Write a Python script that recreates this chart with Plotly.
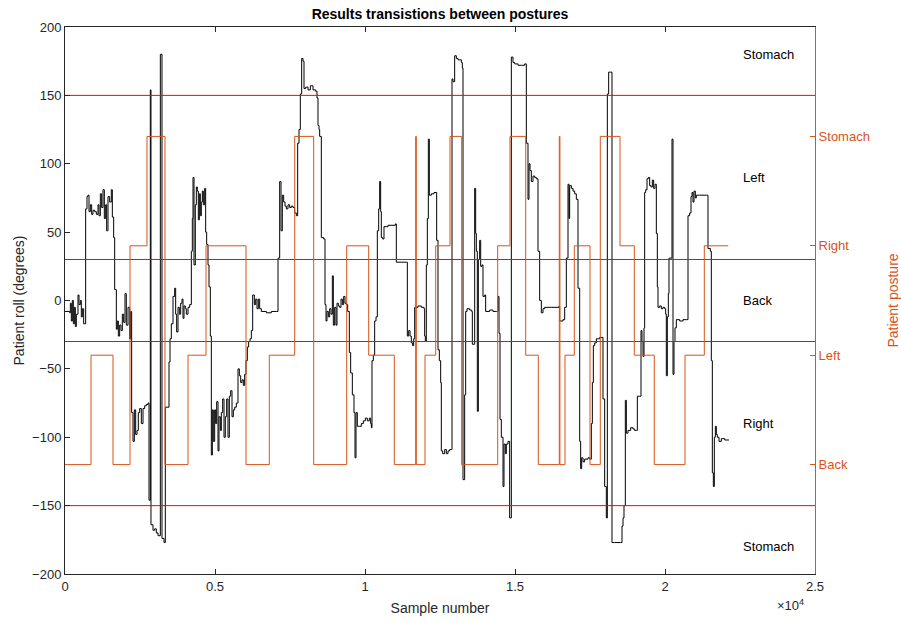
import plotly.graph_objects as go

# ---------------- data ----------------
# Black trace: patient roll (degrees) vs sample number
roll_samples = [0, 156, 178, 211, 244, 278, 311, 344, 378, 433, 467, 511, 544, 578, 622,
    689, 733, 767, 800, 844, 889, 933, 989, 1044, 1100, 1133, 1178, 1222, 1267, 1311, 1356,
    1389, 1433, 1489, 1544, 1578, 1622, 1656, 1711, 1744, 1778, 1822, 1867, 1911, 1956, 2000,
    2044, 2100, 2156, 2189, 2222, 2267, 2311, 2356, 2400, 2444, 2489, 2544, 2600, 2656, 2711,
    2767, 2800, 2844, 2866, 2933, 2989, 3044, 3100, 3178, 3233, 3300, 3344, 3433, 3467, 3500,
    3544, 3600, 3656, 3689, 3722, 3767, 3811, 3856, 3900, 3933, 3967, 4011, 4044, 4100, 4156,
    4211, 4244, 4267, 4300, 4344, 4378, 4411, 4444, 4478, 4511, 4544, 4578, 4611, 4656, 4689,
    4722, 4767, 4800, 4844, 4878, 4911, 4944, 4989, 5022, 5056, 5100, 5133, 5178, 5211, 5256,
    5300, 5344, 5389, 5433, 5478, 5522, 5567, 5611, 5656, 5711, 5767, 5811, 5856, 5900, 5944,
    5989, 6033, 6078, 6122, 6167, 6211, 6256, 6311, 6356, 6400, 6444, 6489, 6544, 6711, 6878,
    7044, 7100, 7156, 7200, 7244, 7289, 7333, 7378, 7433, 7489, 7544, 7600, 7656, 7711, 7756,
    7800, 7844, 7889, 7933, 7967, 8022, 8100, 8178, 8267, 8356, 8400, 8433, 8467, 8489, 8544,
    8622, 8667, 8700, 8733, 8778, 8822, 8867, 8911, 8944, 8989, 9033, 9067, 9111, 9156, 9200,
    9244, 9289, 9333, 9378, 9422, 9478, 9522, 9578, 9633, 9667, 9700, 9744, 9811, 9878, 9944,
    10011, 10078, 10144, 10189, 10211, 10233, 10278, 10322, 10367, 10411, 10456, 10489, 10522,
    10544, 10589, 10633, 10767, 10933, 11011, 11044, 11211, 11378, 11411, 11456, 11500, 11544,
    11589, 11622, 11656, 11767, 11878, 11967, 11989, 12011, 12044, 12078, 12111, 12144, 12211,
    12300, 12367, 12389, 12433, 12478, 12522, 12544, 12589, 12656, 12711, 12767, 12822, 12878,
    12900, 12933, 12989, 13044, 13100, 13156, 13211, 13244, 13267, 13300, 13322, 13356, 13400,
    13489, 13556, 13578, 13633, 13656, 13689, 13711, 13744, 13778, 13822, 13856, 13900, 13933,
    13989, 14022, 14156, 14267, 14378, 14433, 14467, 14500, 14544, 14600, 14633, 14678, 14711,
    14767, 14822, 14878, 14933, 14989, 15100, 15211, 15322, 15378, 15433, 15467, 15500, 15544,
    15600, 15656, 15711, 15767, 15822, 15878, 15933, 15989, 16211, 16433, 16467, 16489, 16600,
    16656, 16711, 16767, 16800, 16822, 16878, 16933, 16989, 17044, 17100, 17156, 17189, 17222,
    17267, 17322, 17433, 17489, 17544, 17578, 17611, 17656, 17711, 17822, 17900, 17933, 17989,
    18044, 18078, 18122, 18189, 18233, 18322, 18433, 18522, 18567, 18600, 18633, 18678, 18711,
    18767, 18856, 18933, 18989, 19044, 19078, 19156, 19200, 19233, 19267, 19300, 19322, 19356,
    19400, 19444, 19489, 19533, 19578, 19622, 19667, 19711, 19744, 19767, 19822, 19878, 19933,
    19989, 20022, 20044, 20078, 20111, 20133, 20189, 20233, 20267, 20300, 20333, 20378, 20489,
    20600, 20711, 20767, 20822, 20867, 20900, 20933, 20967, 21011, 21044, 21156, 21267, 21378,
    21433, 21511, 21544, 21578, 21611, 21644, 21678, 21711, 21744, 21800, 21878, 21989, 22133]

roll_degrees = [-8, -9, -2, -15, 0, -17, -5, -19, -10, 4, -3, 0, -12, -6, -17,
    67, 76, 77, 65, 70, 63, 66, 65, 63, 70, 62, 78, 68, 81, 60, 70,
    51, 76, 72, 81, 61, 46, 8, -21, -15, -26, -18, -22, -10, -16, 5,
    -18, -5, -28, -8, -82, -103, -80, -98, -95, -82, -79, -90, -79, -77, -76,
    -75, -146, 154, -164, -168, -167, -170, -172, 180, -174, -177, -78, -78, -45, -28,
    -17, 3, 9, -10, -23, -5, -10, -2, 1, -13, -4, -6, -10, -5, -3,
    36, 60, 90, 26, 70, 83, 80, 59, 78, 62, 72, 80, 70, 82, 50,
    41, 26, 10, -26, -113, -80, -103, -80, -90, -74, -110, -85, -95, -82, -72,
    -100, -85, -72, -100, -70, -66, -85, -80, -78, -75, -50, -55, -60, -58, -62,
    -54, -44, -34, -30, -28, -22, 4, -3, 1, -6, 1, -6, -8, -9, -8,
    -8, 31, 87, 51, 77, 72, 69, 67, 70, 68, 69, 68, 64, 62, 115,
    125, 151, 177, 175, 155, 156, 154, 157, 154, 153, 148, 128, 125, 120, 46,
    45, -3, -15, -8, -12, -6, -10, 18, -18, -5, -18, -2, -4, -5, 1,
    -3, 3, -2, -3, -8, -38, -53, -69, -82, -115, -82, -92, -92, -90, -88,
    -86, -88, -86, -90, -93, -44, -40, -15, -12, 51, 67, 87, 65,
    46, 45, 54, 55, 55, 56, 28, 28, 28, -26, -22, -26, -31,
    -33, -28, -5, -4, -5, -6, -26, -30, 26, 60, 118, 77, 78,
    79, 79, 44, -36, -44, -60, -110, -112, -109, -112, -110, -109, -109,
    162, 160, 179, 177, 176, 176, 174, 170, -131, -131, -69, -8, -6,
    -7, -8, -32, -32, 82, 49, 36, -81, 30, 44, 25, 26, 3,
    4, -8, -7, -8, -8, 3, -24, -87, -100, -136, -105, -112, -105,
    -103, -159, 178, 174, 173, 172, 172, 173, 115, 74, 100, 95, 87,
    91, 90, 89, 36, 0, -9, -6, -5, -5, -5, -4, -15, -14,
    -5, 31, 85, 60, 84, 82, 80, 78, 74, 9, -103, -123, -115,
    -118, -116, -115, -116, -90, -60, -33, -31, -28, -27, -27, -72, -136,
    -159, 151, 167, 167, -177, -177, -177, -177, -165, -159, -150, -73, -97,
    -95, -93, -94, -95, -95, -70, -70, -22, -30, -41, -20, 79, 81,
    89, 90, 84, 83, 88, 82, 85, 49, 10, -5, -4, -6, -5,
    -6, -10, -55, -12, 5, 31, 31, 118, -54, -30, -20, -14, -15,
    -14, -14, 62, 64, 76, 79, 72, 80, 75, 77, 77, 77, 77,
    38, 36, -44, -126, -136, -100, -92, -98, -100, -103, -101, -102, -102]

# Orange trace: classified posture (1=Back, 2=Left, 3=Right, 4=Stomach)
posture_samples = [0, 867, 1600, 2167, 2733, 3333, 4100, 4700, 6033, 6810, 7657, 8290,
    9390, 10123, 10977, 11690, 11710, 12000, 12357, 12833, 13223, 14423, 14833, 15357,
    15777, 16477, 16497, 16667, 16977, 17500, 17843, 18500, 18977, 19643, 20667, 21310, 22110]
posture_codes = [1, 2, 1, 3, 4, 1, 2, 3, 1, 2, 4, 1,
    3, 2, 1, 4, 1, 2, 3, 4, 1, 3, 4, 2,
    1, 4, 1, 2, 3, 1, 4, 3, 2, 1, 2, 3, 3]
posture_labels = ["Back", "Left", "Right", "Stomach"]
posture_ticks = [1, 2, 3, 4]

# Threshold lines (degrees) and region labels
thresholds = [150, 30, -30, -150]
x_limits = [0, 25000]
region_labels = ["Stomach", "Left", "Back", "Right", "Stomach"]
region_label_roll = [180, 90, 0, -90, -180]
region_label_sample = 22530

x_ticks = [0, 5000, 10000, 15000, 20000, 25000]
x_tick_text = ["0", "0.5", "1", "1.5", "2", "2.5"]
y_ticks = [-200, -150, -100, -50, 0, 50, 100, 150, 200]

ORANGE = "#D95319"
AX = "#262626"
FONT = "Liberation Sans, Arial, sans-serif"

fig = go.Figure()

fig.add_trace(go.Scatter(x=posture_samples, y=posture_codes, mode="lines",
                         line=dict(color=ORANGE, width=1, shape="hv"),
                         yaxis="y2", showlegend=False, hoverinfo="skip"))

fig.add_trace(go.Scatter(x=roll_samples, y=roll_degrees, mode="lines",
                         line=dict(color="black", width=1, shape="hv"),
                         showlegend=False))

for t in thresholds:
    fig.add_trace(go.Scatter(x=x_limits, y=[t, t], mode="lines",
                             line=dict(color="#ff0000", width=1),
                             showlegend=False, hoverinfo="skip"))

for lab, yv in zip(region_labels, region_label_roll):
    fig.add_annotation(x=region_label_sample, y=yv, xref="x", yref="y", text=lab,
                       showarrow=False, xanchor="left", yanchor="middle",
                       font=dict(family=FONT, size=13, color="black"))

fig.add_annotation(x=0.967, y=-0.057, xref="paper", yref="paper",
                   text="\u00d710<sup>4</sup>", showarrow=False,
                   xanchor="center", yanchor="middle",
                   font=dict(family=FONT, size=13, color=AX))

fig.update_layout(
    width=901, height=623,
    margin=dict(l=65, r=86, t=27, b=49, autoexpand=False),
    paper_bgcolor="white", plot_bgcolor="white",
    font=dict(family=FONT, size=13, color=AX),
    title=dict(text="<b>Results transistions between postures</b>", x=0.5, xref="paper",
               y=1 - 14 / 623, yref="container", yanchor="middle",
               font=dict(family=FONT, size=14, color="black")),
    xaxis=dict(range=x_limits, tickvals=x_ticks, ticktext=x_tick_text,
               ticks="inside", ticklen=5, tickcolor=AX, showline=True, linecolor=AX,
               linewidth=1, mirror="ticks", showgrid=False, zeroline=False,
               automargin=False,
               title=dict(text="Sample number", standoff=10, font=dict(size=14, color=AX)),
               tickfont=dict(size=13, color=AX)),
    yaxis=dict(range=[-200, 200], tickvals=y_ticks, ticks="inside", ticklen=5,
               tickcolor=AX, showline=True, linecolor=AX, linewidth=1, mirror=False,
               showgrid=False, zeroline=False, automargin=False,
               title=dict(text="Patient roll (degrees)", standoff=4, font=dict(size=14, color=AX)),
               tickfont=dict(size=13, color=AX)),
    yaxis2=dict(range=[0, 5], overlaying="y", side="right", tickvals=posture_ticks,
                ticktext=posture_labels, ticks="inside", ticklen=5, tickcolor=ORANGE,
                showline=True, linecolor=ORANGE, linewidth=1, showgrid=False,
                zeroline=False, automargin=False,
                title=dict(text="Patient posture", standoff=20, font=dict(size=14, color=ORANGE)),
                tickfont=dict(size=13, color=ORANGE)),
)

# remove the default 8px page margin so the figure sits at the window's corner
fig.write_html("out.html", config={"displayModeBar": False},
               post_script="document.body.style.margin='0px';")
